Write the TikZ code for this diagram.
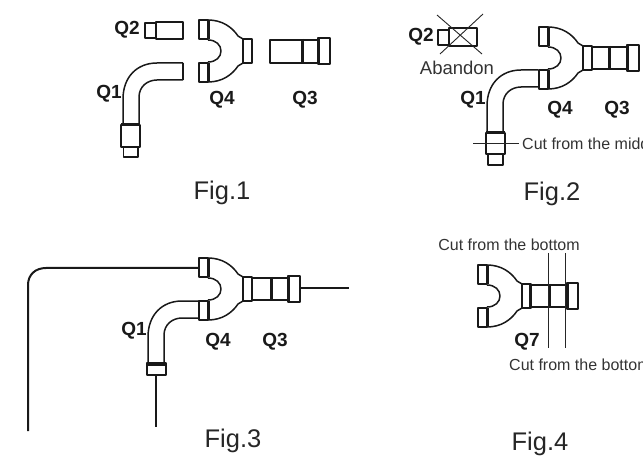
\documentclass[tikz,border=0pt]{standalone}
\usepackage{fontspec}
\setmainfont{Liberation Sans}
\tikzset{
  x=1bp,y=-1bp,
  part/.style={draw=black!90,line width=1.5bp,line join=round},
  heavy/.style={draw=black!90,line width=3bp},
  midheavy/.style={draw=black!90,line width=2.2bp},
  qlabel/.style={inner sep=0pt,text=black!90,font=\bfseries\fontsize{19bp}{21bp}\selectfont},
  figlabel/.style={inner sep=0pt,text=black!85,font=\fontsize{25.5bp}{28bp}\selectfont},
  note/.style={inner sep=0pt,text=black!80,font=\fontsize{16bp}{18bp}\selectfont},
  thin line/.style={draw=black!85,line width=0.9bp},
  pipe/.style={draw=black!90,line width=2bp},
  pics/yfit/.style={code={
    \draw[part] (-9,-31) rectangle (0,-12);
    \draw[part] (-9,12) rectangle (0,31);
    \draw[heavy] (0,-31) -- (0,-12) (0,12) -- (0,31);
    \draw[part] (0,-31) .. controls (14,-31) and (24,-24) .. (30,-15) -- (35,-12);
    \draw[part] (0,31) .. controls (14,31) and (24,24) .. (30,15) -- (35,12);
    \draw[part] (0,-11) .. controls (8,-11) and (13,-6) .. (13,0) .. controls (13,6) and (8,11) .. (0,11);
    \draw[part] (35,-12) rectangle (44,12);
  }},
  pics/elbow/.style={code={
    \draw[part] (#1,0) -- (34,0) .. controls (14,0) and (0,14) .. (0,36) -- (0,62);
    \draw[part] (#1,17) -- (34,17) .. controls (24,17) and (16,24) .. (16,34) -- (16,62);
  }},
}
\begin{document}
\begin{tikzpicture}
\useasboundingbox (0,0) rectangle (643,458);
\clip (0,0) rectangle (643,458);
% ---------- Fig.1
\draw[part] (145,23) rectangle (156,38);
\draw[part] (156,22) rectangle (183,39);
\draw[midheavy] (156,22) -- (156,39);
\pic at (208,51) {yfit};
\draw[part] (270,40) rectangle (318,63);
\draw[part] (318,38) rectangle (330,64);
\draw[heavy] (302,39) -- (302,64) (318,38) -- (318,64);
\pic at (123,63) {elbow=60};
\draw[part] (183,63) -- (183,80);
\draw[part] (121,125) rectangle (140,147);
\draw[heavy] (121,125) -- (140,125);
\draw[midheavy] (121,147) -- (140,147);
\draw[part] (123.5,147) rectangle (138,157);
\node[qlabel] (f1q2) at (127,30) {Q2};
\node[qlabel] (f1q1) at (109,94) {Q1};
\node[qlabel] (f1q4) at (222,100) {Q4};
\node[qlabel] (f1q3) at (305,100) {Q3};
\node[figlabel] (f1) at (222,193) {Fig.1};
% ---------- Fig.2
\draw[part] (438,30) rectangle (449,45);
\draw[part] (449,28) rectangle (477,46);
\draw[midheavy] (449,28) -- (449,46);
\draw[thin line] (437,15) -- (482,54) (483,14) -- (440,54);
\pic at (548,58) {yfit};
\draw[midheavy] (583,46) -- (583,70);
\draw[part] (592,47) rectangle (627,69);
\draw[part] (627,45) rectangle (639,71);
\draw[heavy] (609,46) -- (609,70) (627,45) -- (627,71);
\pic at (487,70) {elbow=51};
\draw[part] (486,133) rectangle (505,154);
\draw[heavy] (486,133) -- (505,133);
\draw[midheavy] (486,154) -- (505,154);
\draw[part] (488,154) rectangle (503,165);
\coordinate (cutL) at (473,143);
\coordinate (cutR) at (519,143);
\draw[thin line] (cutL) -- (cutR);
\node[note,anchor=west] (cutmid) at (522,144) {Cut from the middle};
\node[qlabel] (f2q2) at (421,37) {Q2};
\node[note,font=\fontsize{18.5bp}{20bp}\selectfont] (abandon) at (457,68) {Abandon};
\node[qlabel] (f2q1) at (473,100) {Q1};
\node[qlabel] (f2q4) at (560,110) {Q4};
\node[qlabel] (f2q3) at (617,110) {Q3};
\node[figlabel] (f2) at (552,194) {Fig.2};
% ---------- Fig.3
\pic at (208,289) {yfit};
\draw[midheavy] (243,277) -- (243,301);
\draw[part] (252,278) rectangle (288,300);
\draw[part] (288,276) rectangle (300,302);
\draw[heavy] (271,277) -- (271,301) (288,276) -- (288,302);
\pic at (148,301) {elbow=51};
\draw[part] (147,363) rectangle (166,375);
\draw[heavy] (147,364.5) -- (166,364.5);
\coordinate (a1) at (199,268);
\coordinate (a2) at (28,431);
\draw[pipe] (a1) -- (46,268) .. controls (35,268) and (28,275) .. (28,285) -- (a2);
\coordinate (b1) at (300,288);
\coordinate (b2) at (349,288);
\draw[part] (b1) -- (b2);
\coordinate (c1) at (156,375);
\coordinate (c2) at (156,427);
\draw[part] (c1) -- (c2);
\node[qlabel] (f3q1) at (134,331) {Q1};
\node[qlabel] (f3q4) at (218,342) {Q4};
\node[qlabel] (f3q3) at (275,342) {Q3};
\node[figlabel] (f3) at (233,441) {Fig.3};
% ---------- Fig.4
\pic at (487,296) {yfit};
\draw[midheavy] (522,284) -- (522,308);
\draw[part] (530,285) rectangle (567,307);
\draw[part] (567,283) rectangle (578,309);
\draw[heavy] (549.5,284) -- (549.5,308) (567,283) -- (567,309);
\coordinate (d1) at (548,253);
\coordinate (d2) at (548,348);
\coordinate (e1) at (565,253);
\coordinate (e2) at (565,348);
\draw[thin line] (d1) -- (d2) (e1) -- (e2);
\node[note] (cuttop) at (509,245) {Cut from the bottom};
\node[note,anchor=west] (cutbot) at (509,365) {Cut from the bottom};
\node[qlabel] (f4q7) at (527,342) {Q7};
\node[figlabel] (f4) at (540,444) {Fig.4};
\end{tikzpicture}
\end{document}
